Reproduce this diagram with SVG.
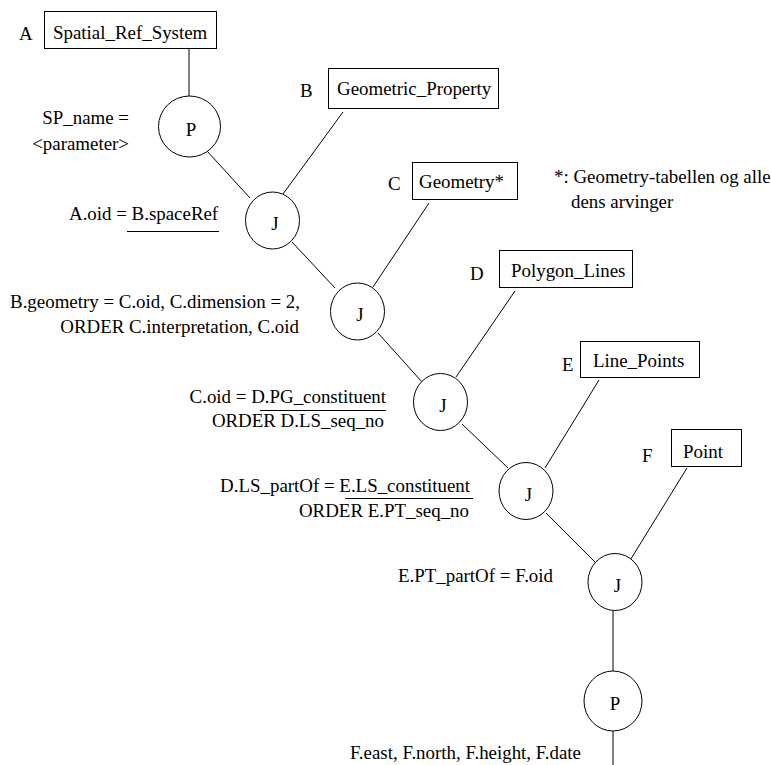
<svg xmlns="http://www.w3.org/2000/svg" width="771" height="765" viewBox="0 0 771 765" font-family="'Liberation Serif', 'Times New Roman', 'DejaVu Serif', serif">
  <style>
    text { font-family: "Liberation Serif", "Times New Roman", "DejaVu Serif", serif; font-size: 18.9px; fill: #000; }
    .box { fill: #fff; stroke: #000; stroke-width: 1; }
    .op { fill: #fff; stroke: #000; stroke-width: 1; }
    .edge { stroke: #000; stroke-width: 1; fill: none; }
    .mid { text-anchor: middle; }
    .end { text-anchor: end; }
  </style>
  <rect width="771" height="765" fill="#fff"/>

  <!-- connectors -->
  <g id="connectors">
    <line class="edge" x1="189" y1="49" x2="189" y2="96"/>
    <line class="edge" x1="207" y1="151" x2="250" y2="198"/>
    <line class="edge" x1="343" y1="112" x2="283" y2="194"/>
    <line class="edge" x1="292" y1="242" x2="335" y2="288"/>
    <line class="edge" x1="429" y1="203" x2="373" y2="287"/>
    <line class="edge" x1="378" y1="333" x2="422" y2="382"/>
    <line class="edge" x1="515" y1="291" x2="456" y2="377"/>
    <line class="edge" x1="462" y1="424" x2="508" y2="468"/>
    <line class="edge" x1="599" y1="380" x2="545" y2="468"/>
    <line class="edge" x1="546" y1="513" x2="595" y2="562"/>
    <line class="edge" x1="687" y1="468" x2="629" y2="562"/>
    <line class="edge" x1="613" y1="611" x2="613" y2="671"/>
    <line class="edge" x1="613" y1="731" x2="613" y2="765"/>
  </g>

  <!-- tables -->
  <g id="A">
    <text x="19" y="40">A</text>
    <rect class="box" x="44.5" y="11.5" width="172" height="37"/>
    <text x="53" y="39">Spatial_Ref_System</text>
  </g>
  <g id="B">
    <text x="300" y="97">B</text>
    <rect class="box" x="328.5" y="68.5" width="170" height="40"/>
    <text x="337" y="95">Geometric_Property</text>
  </g>
  <g id="C">
    <text x="388" y="190">C</text>
    <rect class="box" x="412.5" y="162.5" width="105" height="37"/>
    <text x="419" y="188">Geometry*</text>
  </g>
  <g id="D">
    <text x="470" y="280">D</text>
    <rect class="box" x="499.5" y="250.5" width="133" height="37"/>
    <text x="511" y="277">Polygon_Lines</text>
  </g>
  <g id="E">
    <text x="562" y="371">E</text>
    <rect class="box" x="580.5" y="341.5" width="119" height="36"/>
    <text x="593" y="367">Line_Points</text>
  </g>
  <g id="F">
    <text x="642" y="462">F</text>
    <rect class="box" x="671.5" y="429.5" width="70" height="37"/>
    <text x="683" y="458">Point</text>
  </g>

  <!-- operators -->
  <g id="P1">
    <ellipse class="op" cx="189.5" cy="126.5" rx="31" ry="30.5"/>
    <text class="mid" x="191" y="136">P</text>
  </g>
  <g id="J1">
    <ellipse class="op" cx="272.5" cy="220.5" rx="27" ry="28.5"/>
    <text class="mid" x="275" y="230">J</text>
  </g>
  <g id="J2">
    <ellipse class="op" cx="357.5" cy="311.5" rx="27" ry="28.5"/>
    <text class="mid" x="360" y="321">J</text>
  </g>
  <g id="J3">
    <ellipse class="op" cx="440.5" cy="402" rx="27" ry="28.5"/>
    <text class="mid" x="443" y="412">J</text>
  </g>
  <g id="J4">
    <ellipse class="op" cx="526" cy="491" rx="27" ry="28.5"/>
    <text class="mid" x="528.5" y="501">J</text>
  </g>
  <g id="J5">
    <ellipse class="op" cx="615" cy="582" rx="27" ry="28.5"/>
    <text class="mid" x="617.5" y="592">J</text>
  </g>
  <g id="P2">
    <ellipse class="op" cx="613" cy="701" rx="29" ry="30"/>
    <text class="mid" x="615" y="710">P</text>
  </g>

  <!-- conditions -->
  <g id="conditions">
    <text class="end" x="129" y="124">SP_name =</text>
    <text class="end" x="129" y="150">&lt;parameter&gt;</text>

    <text x="69" y="220">A.oid = B.spaceRef</text>
    <line class="edge" x1="127" y1="231.5" x2="219" y2="231.5"/>

    <text class="end" x="300" y="308">B.geometry = C.oid, C.dimension = 2,</text>
    <text class="end" x="299" y="333">ORDER C.interpretation, C.oid</text>

    <text class="end" x="386" y="403">C.oid = D.PG_constituent</text>
    <line class="edge" x1="260" y1="410.5" x2="386" y2="410.5"/>
    <text class="end" x="384" y="427">ORDER D.LS_seq_no</text>

    <text class="end" x="470" y="492">D.LS_partOf = E.LS_constituent</text>
    <line class="edge" x1="345" y1="498.5" x2="473" y2="498.5"/>
    <text class="end" x="469" y="517">ORDER E.PT_seq_no</text>

    <text x="398" y="582">E.PT_partOf = F.oid</text>

    <text class="end" x="581" y="759">F.east, F.north, F.height, F.date</text>

    <text x="554" y="183">*: Geometry-tabellen og alle</text>
    <text x="571" y="208">dens arvinger</text>
  </g>
</svg>
